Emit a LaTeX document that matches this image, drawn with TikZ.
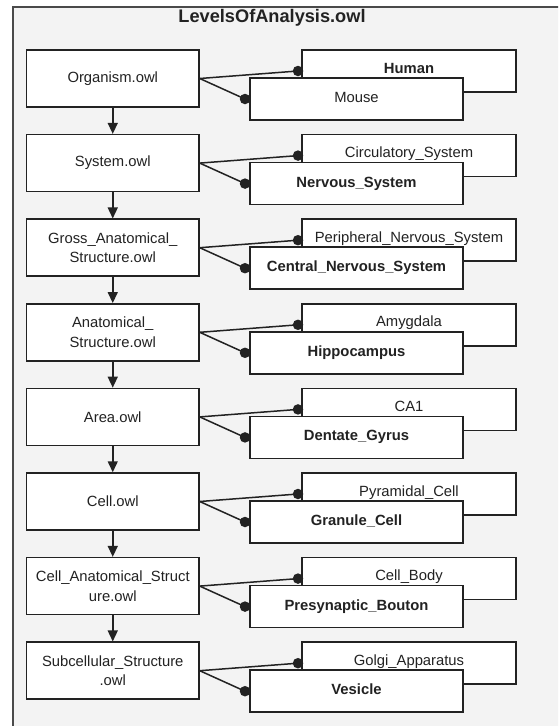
\documentclass[tikz,border=0pt]{standalone}
\usepackage{fontspec}
\setmainfont{Liberation Sans}
\usetikzlibrary{arrows.meta}
\definecolor{framebg}{HTML}{F3F3F3}
\definecolor{ink}{HTML}{222222}
\definecolor{frameline}{HTML}{4A4A4A}
\begin{document}
\begin{tikzpicture}[x=1pt,y=-1pt,
  box/.style={draw=ink, line width=1.5pt, fill=white, inner sep=0pt, font=\fontsize{14.8}{19.5}\selectfont, align=center, text=ink},
  lbox/.style={box, minimum width=172.5pt, minimum height=57pt},
  rbox/.style={box, minimum width=214pt, minimum height=42pt},
  upbox/.style={rbox, text height=11pt, text depth=7pt},
  lowbox/.style={rbox, minimum width=213pt, text height=11pt, text depth=4pt},
  blob/.style={circle, fill=ink, inner sep=0pt, minimum size=10.5pt},
  link/.style={draw=ink, line width=1.5pt},
  down/.style={draw=ink, line width=1.5pt, -{Triangle[length=11pt,width=10pt]}},
]
\useasboundingbox (0,0) rectangle (558,726);
\begin{scope}
\clip (0,0) rectangle (558,726);
\fill[white] (0,0) rectangle (558,726);
\draw[fill=framebg, draw=frameline, line width=1.8pt] (13,7) rectangle (575,745);
\end{scope}
\node[font=\bfseries\fontsize{18.2}{21}\selectfont, text=ink] (title) at (272,18) {LevelsOfAnalysis.owl};
\foreach \i/\lt/\ut/\dt in {
  0/{Organism.owl}/{\textbf{Human}}/{Mouse},
  1/{System.owl}/{Circulatory\_System}/{\textbf{Nervous\_System}},
  2/{Gross\_Anatomical\_\\Structure.owl}/{Peripheral\_Nervous\_System}/{\textbf{Central\_Nervous\_System}},
  3/{Anatomical\_\\Structure.owl}/{Amygdala}/{\textbf{Hippocampus}},
  4/{Area.owl}/{CA1}/{\textbf{Dentate\_Gyrus}},
  5/{Cell.owl}/{Pyramidal\_Cell}/{\textbf{Granule\_Cell}},
  6/{Cell\_Anatomical\_Struct\\ure.owl}/{Cell\_Body}/{\textbf{Presynaptic\_Bouton}},
  7/{Subcellular\_Structure\\.owl}/{Golgi\_Apparatus}/{\textbf{Vesicle}}}
{
  \pgfmathsetmacro\t{50+84.6*\i}
  \node[lbox] (L\i) at (112.75, \t+28.5) {\lt};
  \node[upbox] (U\i) at (409, \t+21) {\ut};
  \node[lowbox] (D\i) at (356.5, \t+49) {\dt};
  \node[blob] (u\i) at (298, \t+21) {};
  \node[blob] (d\i) at (245, \t+49) {};
  \draw[link] (L\i.east) -- (u\i.center);
  \draw[link] (L\i.east) -- (d\i.center);
}
\foreach \i in {0,...,6} {
  \pgfmathtruncatemacro\j{\i+1}
  \draw[down] (L\i) -- (L\j);
}
\end{tikzpicture}
\end{document}
